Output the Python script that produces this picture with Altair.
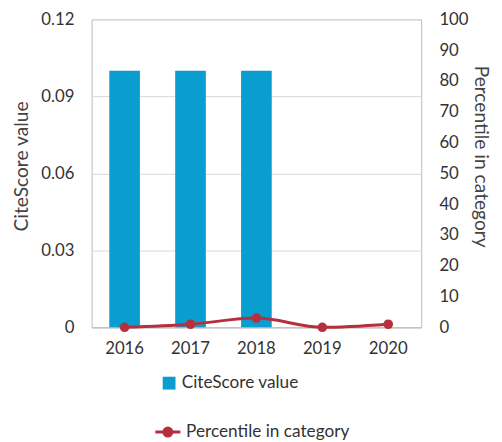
import altair as alt
import pandas as pd

years = ["2016", "2017", "2018", "2019", "2020"]
citescore = [0.1, 0.1, 0.1, None, None]
percentile = [0, 1, 3, 0, 1]

df = pd.DataFrame({
    "year": years,
    "citescore": citescore,
    "percentile": percentile,
    "s1": ["CiteScore value"] * 5,
    "s2": ["Percentile in category"] * 5,
})

FONT = "Lato"
RED = "#b5303c"
BLUE = "#0a9dd0"
x = alt.X("year:N", title=None, scale=alt.Scale(paddingInner=0.535, paddingOuter=0.268),
          axis=alt.Axis(labelAngle=0, labelFontSize=17, labelColor="#333", ticks=False,
                        labelPadding=14, domainColor="#bbb", labelFont=FONT))

bars = alt.Chart(df).mark_bar().encode(
    x=x,
    y=alt.Y("citescore:Q", title="CiteScore value",
            scale=alt.Scale(domain=[0, 0.12]),
            axis=alt.Axis(values=[0, 0.03, 0.06, 0.09, 0.12], format=".2~f", ticks=False,
                          domain=False, labelFontSize=17, labelColor="#333", labelPadding=18,
                          titleFontSize=19.5, titleFontWeight="normal", titleColor="#444",
                          titleX=-71, titleY=149, titleBaseline="middle",
                          gridColor="#d8d8d8", labelFont=FONT, titleFont=FONT)),
    color=alt.Color("s1:N", scale=alt.Scale(range=[BLUE]),
                    legend=alt.Legend(title=None, orient="none", legendX=70, legendY=361,
                                      symbolType="square", symbolSize=170, labelFontSize=17.5,
                                      labelColor="#333", labelFont=FONT, symbolStrokeWidth=0,
                                      labelLimit=300)),
)

rscale = alt.Scale(domain=[0, 100])
raxis = alt.Axis(values=list(range(0, 101, 10)), orient="right", ticks=False, domain=False,
                 grid=False, labelFontSize=17, labelColor="#333", labelPadding=18,
                 titleFontSize=19.5, titleFontWeight="normal", titleColor="#444",
                 titleX=60, titleY=139, titleBaseline="middle",
                 labelFont=FONT, titleFont=FONT)

line = alt.Chart(df).mark_line(interpolate="monotone", strokeWidth=3).encode(
    x=x,
    y=alt.Y("percentile:Q", title="Percentile in category", scale=rscale, axis=raxis),
    color=alt.Color("s2:N", scale=alt.Scale(range=[RED]),
                    legend=alt.Legend(title=None, orient="none", legendX=63, legendY=405,
                                      symbolType="M-1,0L1,0M-0.32,0A0.32,0.32 0 1 1 0.32,0A0.32,0.32 0 1 1 -0.32,0",
                                      symbolSize=650, symbolStrokeWidth=3, symbolFillColor=RED,
                                      labelFontSize=17.5, labelColor="#333", labelFont=FONT,
                                      labelLimit=300)),
)

pts = alt.Chart(df).mark_circle(size=95, opacity=1, color=RED).encode(
    x=x,
    y=alt.Y("percentile:Q", scale=rscale, axis=None),
)

chart = alt.layer(bars, line, pts).resolve_scale(
    y="independent", color="independent"
).properties(
    width=335, height=313,
    autosize=alt.AutoSizeParams(type="none"),
    padding={"left": 85, "top": 8, "right": 74, "bottom": 113},
).configure_view(stroke="#bbb")

chart.save("out.html", embed_options={"renderer": "svg", "actions": False})
